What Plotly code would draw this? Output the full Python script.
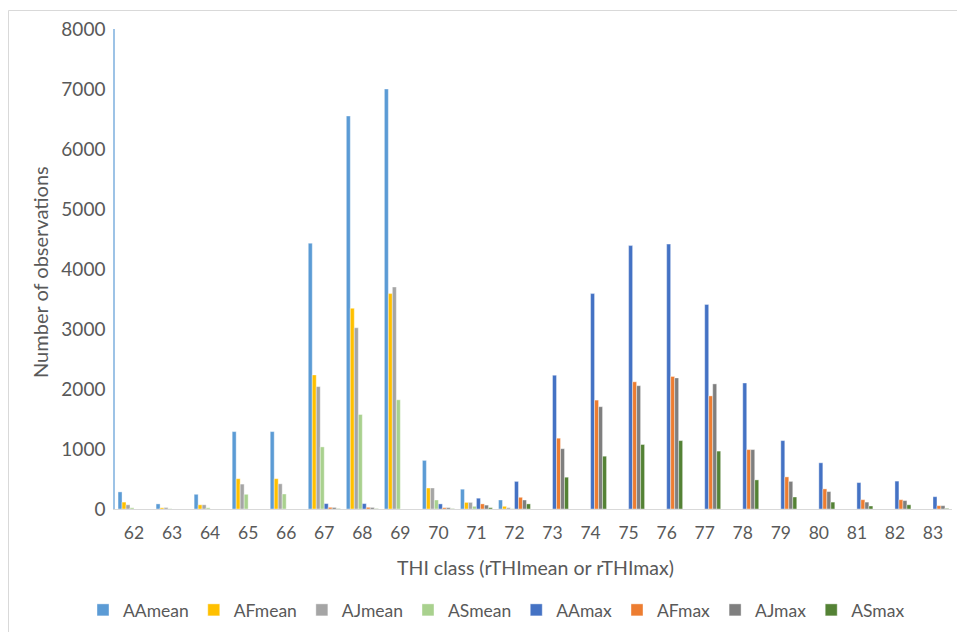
import plotly.graph_objects as go

categories = [str(c) for c in range(62, 84)]

AAmean = [285, 85, 245, 1290, 1290, 4430, 6550, 7000, 810, 330, 150, 0, 0, 0, 0, 0, 0, 0, 0, 0, 0, 0]
AFmean = [115, 20, 70, 505, 505, 2235, 3345, 3590, 350, 110, 45, 0, 0, 0, 0, 0, 0, 0, 0, 0, 0, 0]
AJmean = [70, 25, 70, 415, 420, 2040, 3020, 3700, 350, 110, 22, 0, 0, 0, 0, 0, 0, 0, 0, 0, 0, 0]
ASmean = [20, 5, 20, 245, 250, 1035, 1575, 1820, 150, 45, 5, 0, 0, 0, 0, 0, 0, 0, 0, 0, 0, 0]
AAmax = [0, 0, 0, 0, 0, 90, 90, 0, 85, 180, 460, 2230, 3590, 4390, 4415, 3410, 2100, 1140, 770, 440, 465, 205]
AFmax = [0, 0, 0, 0, 0, 28, 28, 0, 22, 85, 195, 1180, 1815, 2120, 2210, 1885, 990, 535, 335, 155, 155, 55]
AJmax = [0, 0, 0, 0, 0, 25, 25, 0, 22, 65, 150, 1005, 1705, 2055, 2185, 2085, 990, 460, 290, 115, 140, 55]
ASmax = [0, 0, 0, 0, 0, 5, 5, 0, 5, 22, 85, 530, 880, 1075, 1140, 965, 485, 200, 115, 50, 70, 10]

series = [
    ("AAmean", AAmean, "#5B9BD5"),
    ("AFmean", AFmean, "#FFC000"),
    ("AJmean", AJmean, "#A5A5A5"),
    ("ASmean", ASmean, "#A9D18E"),
    ("AAmax", AAmax, "#4472C4"),
    ("AFmax", AFmax, "#ED7D31"),
    ("AJmax", AJmax, "#7F7F7F"),
    ("ASmax", ASmax, "#548235"),
]

FONT = "Lato"
TXT = "#595959"

fig = go.Figure()
for name, vals, col in series:
    fig.add_trace(go.Bar(x=categories, y=vals, name=name,
                         marker=dict(color=col, line=dict(color="white", width=0.4))))

W, H = 957, 632
L, R, T, B = 115, 5, 29, 123
pw, ph = W - L - R, H - T - B

def px_x(p):
    return (p - L) / pw

def px_y(p):
    return (H - B - p) / ph

fig.update_layout(
    width=W, height=H,
    margin=dict(l=L, r=R, t=T, b=B, autoexpand=False),
    paper_bgcolor="white", plot_bgcolor="white",
    barmode="group", bargap=0.16, bargroupgap=0,
    font=dict(family=FONT, color=TXT, size=17),
    showlegend=True,
    legend=dict(orientation="h", x=px_x(83), xanchor="left",
                y=px_y(610), yanchor="middle",
                font=dict(size=17.5, color=TXT), itemwidth=30,
                traceorder="normal"),
    xaxis=dict(type="category", showgrid=False, showline=True,
               linecolor="#D9D9D9", linewidth=1, ticks="",
               tickfont=dict(size=17.5, color=TXT), ticklabelstandoff=8),
    yaxis=dict(range=[0, 8000], dtick=1000, showgrid=False, zeroline=False,
               showline=True, linecolor="#9DC3E6", linewidth=1.5, ticks="",
               tickfont=dict(size=19, color=TXT), ticklabelstandoff=4),
    annotations=[
        dict(text="THI class (rTHImean or rTHImax)", xref="paper", yref="paper",
             x=px_x(535), y=px_y(567), showarrow=False, xanchor="center",
             yanchor="middle", font=dict(size=19.5, color=TXT)),
        dict(text="Number of observations", xref="paper", yref="paper",
             x=px_x(40), y=px_y(272), showarrow=False, textangle=-90,
             xanchor="center", yanchor="middle", font=dict(size=20, color=TXT)),
    ],
    shapes=[
        dict(type="rect", xref="paper", yref="paper",
             x0=px_x(8.5), x1=px_x(975), y0=px_y(650), y1=px_y(10.5),
             line=dict(color="#D9D9D9", width=1), fillcolor="rgba(0,0,0,0)",
             layer="below"),
    ],
)

fig.write_html("out.html", config={"displayModeBar": False},
               post_script="document.body.style.margin='0';")
